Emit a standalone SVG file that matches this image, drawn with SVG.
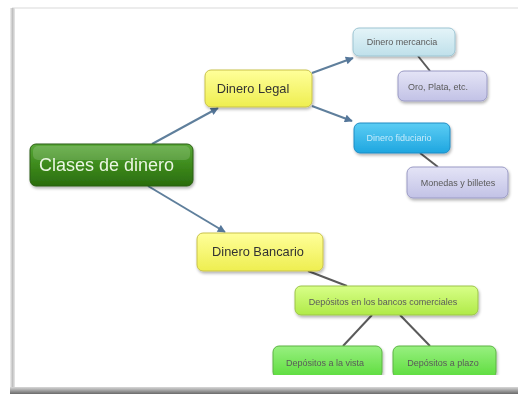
<svg xmlns="http://www.w3.org/2000/svg" width="518" height="394" viewBox="0 0 518 394">
<defs>
<style>
text{font-family:"Liberation Sans",Arial,sans-serif;}
.small{font-size:9px;fill:#5a5a5a;text-anchor:middle;}
.mid{font-size:12.8px;fill:#333;text-anchor:middle;}
.arrow{stroke:#5f7f9c;stroke-width:2;fill:none;marker-end:url(#ah);}
.line{stroke:#5a5a5a;stroke-width:2;fill:none;}
</style>
<marker id="ah" viewBox="0 0 10 10" refX="9" refY="5" markerWidth="10" markerHeight="8" orient="auto" markerUnits="userSpaceOnUse">
<path d="M0,0 L10,5 L0,10 z" fill="#55779a"/>
</marker>
<filter id="sh" x="-10%" y="-20%" width="125%" height="150%">
<feGaussianBlur in="SourceAlpha" stdDeviation="1.5"/>
<feOffset dx="1" dy="2" result="b"/>
<feComponentTransfer><feFuncA type="linear" slope="0.3"/></feComponentTransfer>
<feMerge><feMergeNode/><feMergeNode in="SourceGraphic"/></feMerge>
</filter>
<linearGradient id="gGreen" x1="0" y1="0" x2="0" y2="1">
<stop offset="0" stop-color="#5aa83a"/><stop offset="0.5" stop-color="#3d8a1c"/><stop offset="1" stop-color="#2a6c0e"/>
</linearGradient>
<linearGradient id="gYellow" x1="0" y1="0" x2="0" y2="1">
<stop offset="0" stop-color="#ffff9a"/><stop offset="1" stop-color="#eeee50"/>
</linearGradient>
<linearGradient id="gLBlue" x1="0" y1="0" x2="0" y2="1">
<stop offset="0" stop-color="#e4f4f8"/><stop offset="1" stop-color="#bfe0ea"/>
</linearGradient>
<linearGradient id="gLav" x1="0" y1="0" x2="0" y2="1">
<stop offset="0" stop-color="#e4e4f6"/><stop offset="1" stop-color="#c2c2e6"/>
</linearGradient>
<linearGradient id="gBlue" x1="0" y1="0" x2="0" y2="1">
<stop offset="0" stop-color="#5ccdf4"/><stop offset="1" stop-color="#1ea6e0"/>
</linearGradient>
<linearGradient id="gLime" x1="0" y1="0" x2="0" y2="1">
<stop offset="0" stop-color="#d8ff88"/><stop offset="1" stop-color="#b0ea48"/>
</linearGradient>
<linearGradient id="gGr2" x1="0" y1="0" x2="0" y2="1">
<stop offset="0" stop-color="#98f080"/><stop offset="1" stop-color="#5cdc3c"/>
</linearGradient>
<linearGradient id="gBottom" x1="0" y1="0" x2="0" y2="1">
<stop offset="0" stop-color="#d8d8d8"/><stop offset="1" stop-color="#6a6a6a"/>
</linearGradient>
<linearGradient id="gLeft" x1="0" y1="0" x2="1" y2="0">
<stop offset="0" stop-color="#f0f0f0"/><stop offset="0.5" stop-color="#c0c0c0"/><stop offset="1" stop-color="#e8e8e8"/>
</linearGradient>
</defs>
<rect width="518" height="394" fill="#ffffff"/>
<g id="frame">
<rect x="12" y="7" width="506" height="2" fill="#ececec"/>
<rect x="10" y="8" width="5" height="382" fill="url(#gLeft)"/>
<rect x="10" y="387" width="508" height="7" fill="url(#gBottom)"/>
</g>
<g id="connectors">
<line class="arrow" x1="152" y1="144" x2="218" y2="108"/>
<line class="arrow" x1="148" y1="186" x2="225" y2="232"/>
<line class="arrow" x1="312" y1="73" x2="353" y2="58"/>
<line class="arrow" x1="312" y1="106" x2="352" y2="121"/>
<line class="line" x1="418" y1="56" x2="430" y2="71"/>
<line class="line" x1="420" y1="153" x2="438" y2="167"/>
<line class="line" x1="308" y1="271" x2="347" y2="286"/>
<line class="line" x1="372" y1="315" x2="343" y2="346"/>
<line class="line" x1="400" y1="315" x2="430" y2="346"/>
</g>
<g id="n-clases" filter="url(#sh)">
<rect x="30" y="144" width="163" height="42" rx="6" fill="url(#gGreen)" stroke="#2c5e14" stroke-width="1"/>
<rect x="33" y="146" width="157" height="14" rx="5" fill="#ffffff" opacity="0.15"/>
<text x="39" y="171" font-size="18" fill="#eaf6e2">Clases de dinero</text>
</g>
<g id="n-legal" filter="url(#sh)">
<rect x="205" y="70" width="107" height="37" rx="6" fill="url(#gYellow)" stroke="#c9c24a" stroke-width="1"/>
<text class="mid" x="253" y="93">Dinero Legal</text>
</g>
<g id="n-bancario" filter="url(#sh)">
<rect x="197" y="233" width="126" height="38" rx="6" fill="url(#gYellow)" stroke="#c9c24a" stroke-width="1"/>
<text class="mid" x="258" y="256" font-size="13">Dinero Bancario</text>
</g>
<g id="n-mercancia" filter="url(#sh)">
<rect x="353" y="28" width="102" height="28" rx="6" fill="url(#gLBlue)" stroke="#9cc4d2" stroke-width="1"/>
<text class="small" x="402" y="45">Dinero mercancia</text>
</g>
<g id="n-oro" filter="url(#sh)">
<rect x="398" y="71" width="89" height="30" rx="6" fill="url(#gLav)" stroke="#9a9ac4" stroke-width="1"/>
<text class="small" x="438" y="90">Oro, Plata, etc.</text>
</g>
<g id="n-fiduciario" filter="url(#sh)">
<rect x="354" y="123" width="96" height="30" rx="6" fill="url(#gBlue)" stroke="#1f8cc4" stroke-width="1"/>
<text class="small" x="399" y="141" style="fill:#c6ebfb">Dinero fiduciario</text>
</g>
<g id="n-monedas" filter="url(#sh)">
<rect x="407" y="167" width="101" height="31" rx="6" fill="url(#gLav)" stroke="#9a9ac4" stroke-width="1"/>
<text class="small" x="458" y="186">Monedas y billetes</text>
</g>
<g id="n-comerciales" filter="url(#sh)">
<rect x="295" y="286" width="183" height="29" rx="6" fill="url(#gLime)" stroke="#9cc44a" stroke-width="1"/>
<text class="small" x="383" y="305">Depósitos en los bancos comerciales</text>
</g>
<g id="n-vista" filter="url(#sh)">
<rect x="273" y="346" width="109" height="32" rx="6" fill="url(#gGr2)" stroke="#5cb444" stroke-width="1"/>
<text class="small" x="325" y="366">Depósitos a la vista</text>
</g>
<g id="n-plazo" filter="url(#sh)">
<rect x="393" y="346" width="103" height="32" rx="6" fill="url(#gGr2)" stroke="#5cb444" stroke-width="1"/>
<text class="small" x="443" y="366">Depósitos a plazo</text>
</g>
<rect x="15" y="375" width="503" height="12" fill="#ffffff"/>
</svg>
